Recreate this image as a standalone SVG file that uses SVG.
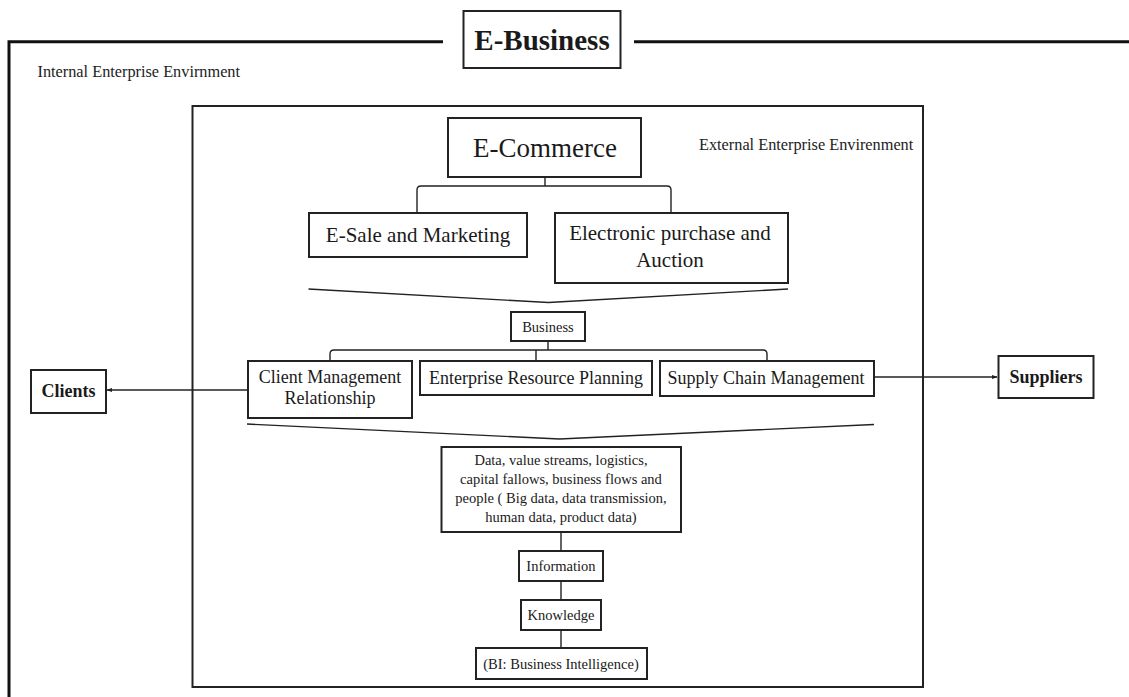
<svg xmlns="http://www.w3.org/2000/svg" width="1129" height="697" viewBox="0 0 1129 697">
<defs>
<style>
.box{fill:#fff;stroke:#222;stroke-width:2}
.frame{fill:none;stroke:#111;stroke-width:3}
.inner{fill:none;stroke:#222;stroke-width:2}
.ln{fill:none;stroke:#222;stroke-width:1.4}
.t{font-family:"Liberation Serif","Times New Roman",serif;fill:#1a1a1a;text-anchor:middle}
.b{font-weight:bold}
.lbl{font-family:"Liberation Serif","Times New Roman",serif;fill:#222;font-size:16.3px}
</style>
<marker id="ah" viewBox="0 0 10 10" refX="9" refY="5" markerWidth="6" markerHeight="6" orient="auto-start-reverse" markerUnits="userSpaceOnUse">
<path d="M0,1.5 L10,5 L0,8.5 Z" fill="#222"/>
</marker>
</defs>
<rect width="1129" height="697" fill="#fff"/>

<g id="outer-frame">
<path class="frame" d="M443,41.7 H9 V697"/>
<path class="frame" d="M634,41.7 H1129"/>
<text class="lbl" x="37.5" y="77">Internal Enterprise Envirnment</text>
</g>

<g id="e-business">
<rect class="box" x="463.5" y="11" width="157" height="57"/>
<text class="t b" x="542" y="50" font-size="29">E-Business</text>
</g>

<g id="inner-frame">
<rect class="inner" x="192.5" y="106" width="730.5" height="581"/>
<text class="lbl" x="699" y="150">External Enterprise Envirenment</text>
</g>

<g id="connectors">
<path class="ln" d="M545,177 V186"/>
<path class="ln" d="M417,213 V190 Q417,186 421,186 H667 Q671,186 671,190 V213"/>
<path class="ln" d="M308.5,289 L548.5,302.5 L788,289"/>
<path class="ln" d="M548,341 V350"/>
<path class="ln" d="M330,360 V354 Q330,350 334,350 H763 Q767,350 767,354 V360"/>
<path class="ln" d="M536,350 V360"/>
<path class="ln" d="M247,424 L559.5,439 L874,424.5"/>
<path class="ln" d="M561,532 V551"/>
<path class="ln" d="M561,581 V600"/>
<path class="ln" d="M561,630 V648"/>
<path class="ln" d="M248,390 H107" marker-end="url(#ah)"/>
<path class="ln" d="M867,377 H997" marker-end="url(#ah)"/>
</g>

<g id="e-commerce">
<rect class="box" x="448" y="118" width="193" height="59"/>
<text class="t" x="545" y="156.5" font-size="27">E-Commerce</text>
</g>

<g id="e-sale">
<rect class="box" x="309" y="213" width="218" height="44"/>
<text class="t" x="418" y="241.5" font-size="21">E-Sale and Marketing</text>
</g>

<g id="e-purchase">
<rect class="box" x="555" y="213" width="233" height="70"/>
<text class="t" x="670" y="240" font-size="21">Electronic purchase and</text>
<text class="t" x="670" y="266.5" font-size="21">Auction</text>
</g>

<g id="business">
<rect class="box" x="511" y="312" width="74" height="29"/>
<text class="t" x="548" y="331.5" font-size="14.5">Business</text>
</g>

<g id="crm">
<rect class="box" x="248" y="361" width="164" height="57"/>
<text class="t" x="330" y="383" font-size="18">Client Management</text>
<text class="t" x="330" y="404" font-size="18">Relationship</text>
</g>

<g id="erp">
<rect class="box" x="420" y="361" width="232" height="34"/>
<text class="t" x="536" y="384" font-size="18">Enterprise Resource Planning</text>
</g>

<g id="scm">
<rect class="box" x="660" y="361" width="214" height="35"/>
<text class="t" x="766" y="384" font-size="18">Supply Chain Management</text>
</g>

<g id="clients">
<rect class="box" x="31" y="370" width="75" height="43"/>
<text class="t b" x="68.5" y="397" font-size="18">Clients</text>
</g>

<g id="suppliers">
<rect class="box" x="998.5" y="356" width="95" height="42"/>
<text class="t b" x="1046" y="383" font-size="18">Suppliers</text>
</g>

<g id="data">
<rect class="box" x="441.5" y="447" width="239.5" height="85"/>
<text class="t" x="561" y="465" font-size="14.5">Data, value streams, logistics,</text>
<text class="t" x="561" y="484" font-size="14.5">capital fallows, business flows and</text>
<text class="t" x="561" y="503" font-size="14.5">people ( Big data, data transmission,</text>
<text class="t" x="561" y="522" font-size="14.5">human data, product data)</text>
</g>

<g id="information">
<rect class="box" x="519" y="551" width="84" height="30"/>
<text class="t" x="561" y="570.5" font-size="14.5">Information</text>
</g>

<g id="knowledge">
<rect class="box" x="521" y="600" width="80" height="30"/>
<text class="t" x="561" y="619.5" font-size="14.5">Knowledge</text>
</g>

<g id="bi">
<rect class="box" x="476" y="648" width="171" height="31"/>
<text class="t" x="561" y="668.5" font-size="14.5">(BI: Business Intelligence)</text>
</g>
</svg>
